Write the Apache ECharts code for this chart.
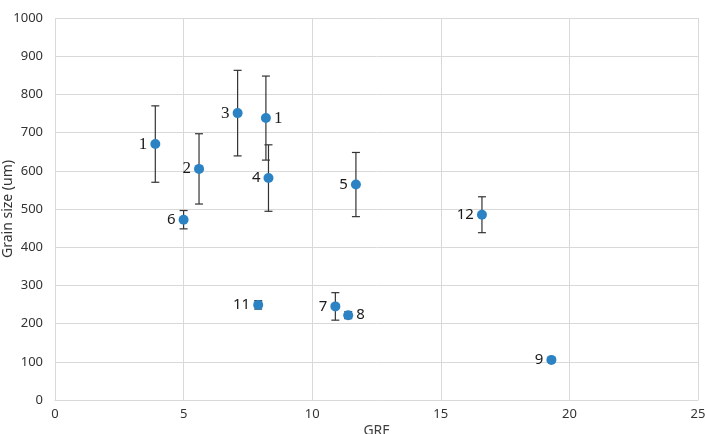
<!DOCTYPE html>
<html>
<head>
<meta charset="utf-8">
<script src="https://cdn.jsdelivr.net/npm/echarts@6/dist/echarts.min.js"></script>
<style>
  html, body { margin: 0; padding: 0; background: #fff; }
  #chart { width: 705px; height: 434px; }
</style>
</head>
<body>
<div id="chart"></div>
<script>
// sample names, GRF and grain size with error (um)
var names = ['1', '2', '3', '1', '4', '5', '6', '7', '8', '9', '11', '12'];
var grf = [3.9, 5.6, 7.1, 8.2, 8.3, 11.7, 5.0, 10.9, 11.4, 19.3, 7.9, 16.6];
var grain = [670, 605, 751, 738, 581, 564, 472, 245, 222, 105, 249, 485];
var grainErr = [100, 92, 112, 110, 87, 84, 24, 36, 9, 0, 11, 47];
var xTicks = [0, 5, 10, 15, 20, 25];
var yTicks = [0, 100, 200, 300, 400, 500, 600, 700, 800, 900, 1000];

// labels drawn on the right side, and the ones in serif type
var rightLabels = [3, 8];
var serifLabels = [0, 1, 2, 3];

var myChart = echarts.init(document.getElementById('chart'));

var pts = grf.map(function (x, i) {
  var serif = serifLabels.indexOf(i) >= 0;
  return {
    value: [x, grain[i]],
    label: {
      position: rightLabels.indexOf(i) >= 0 ? 'right' : 'left',
      fontFamily: serif ? 'Liberation Serif' : 'Noto Sans',
      fontSize: serif ? 17 : 15
    }
  };
});
var bars = grf.map(function (x, i) {
  return [x, grain[i] - grainErr[i], grain[i] + grainErr[i]];
});

myChart.setOption({
  animation: false,
  grid: { left: 55, right: 7, top: 18, bottom: 34, containLabel: false, outerBoundsMode: 'none' },
  xAxis: {
    type: 'value',
    min: 0,
    max: 25,
    interval: 5,
    name: 'GRF',
    nameLocation: 'middle',
    nameGap: 24,
    nameMoveOverlap: false,
    nameTextStyle: { color: '#404040', fontSize: 14, fontFamily: 'Noto Sans' },
    axisLine: { show: true, lineStyle: { color: '#d9d9d9' } },
    axisTick: { show: false },
    axisLabel: { color: '#333', fontSize: 13, fontFamily: 'Noto Sans', margin: 8,
      formatter: function (v) { return xTicks.indexOf(v) >= 0 ? v : ''; } },
    splitLine: { show: true, lineStyle: { color: '#d9d9d9' } }
  },
  yAxis: {
    type: 'value',
    min: 0,
    max: 1000,
    interval: 100,
    name: 'Grain size (um)',
    nameLocation: 'middle',
    nameGap: 40,
    nameMoveOverlap: false,
    nameTextStyle: { color: '#333', fontSize: 14, fontFamily: 'Noto Sans' },
    axisLine: { show: false },
    axisTick: { show: false },
    axisLabel: { color: '#333', fontSize: 13, fontFamily: 'Noto Sans', margin: 12,
      formatter: function (v) { return yTicks.indexOf(v) >= 0 ? v : ''; } },
    splitLine: { show: true, lineStyle: { color: '#d9d9d9' } }
  },
  series: [
    {
      type: 'custom',
      z: 1,
      data: bars,
      renderItem: function (params, api) {
        if (api.value(1) === api.value(2)) return;
        var top = api.coord([api.value(0), api.value(2)]);
        var bot = api.coord([api.value(0), api.value(1)]);
        var w = 4;
        var st = { stroke: '#333', lineWidth: 1.2 };
        return {
          type: 'group',
          children: [
            { type: 'line', shape: { x1: top[0], y1: top[1], x2: bot[0], y2: bot[1] }, style: st },
            { type: 'line', shape: { x1: top[0] - w, y1: top[1], x2: top[0] + w, y2: top[1] }, style: st },
            { type: 'line', shape: { x1: bot[0] - w, y1: bot[1], x2: bot[0] + w, y2: bot[1] }, style: st }
          ]
        };
      }
    },
    {
      type: 'scatter',
      z: 3,
      symbolSize: 10,
      itemStyle: { color: '#2c83c4', opacity: 1 },
      data: pts,
      label: {
        show: true,
        distance: 3,
        color: '#1a1a1a',
        formatter: function (p) { return names[p.dataIndex]; }
      }
    }
  ]
});
</script>
</body>
</html>
